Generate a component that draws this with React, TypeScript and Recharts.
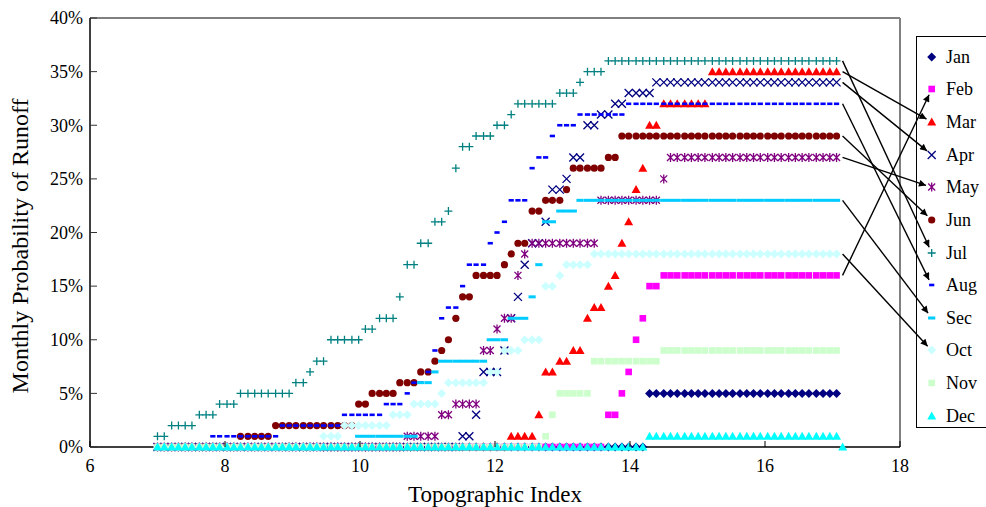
import React from "react";
import { ScatterChart, Scatter, XAxis, YAxis, ReferenceLine, Legend, Label } from "recharts";

// topographic index of each class (x)
const topoIndex = [
  7.0, 7.1, 7.21, 7.31, 7.41, 7.51, 7.62, 7.72, 7.82, 7.92,
  8.03, 8.13, 8.23, 8.34, 8.44, 8.54, 8.64, 8.75, 8.85, 8.95,
  9.05, 9.16, 9.26, 9.36, 9.46, 9.57, 9.67, 9.77, 9.88, 9.98,
  10.08, 10.18, 10.29, 10.39, 10.49, 10.59, 10.7, 10.8, 10.9, 11.01,
  11.11, 11.21, 11.31, 11.42, 11.52, 11.62, 11.72, 11.83, 11.93, 12.03,
  12.14, 12.24, 12.34, 12.44, 12.55, 12.65, 12.75, 12.85, 12.96, 13.06,
  13.16, 13.26, 13.37, 13.47, 13.57, 13.68, 13.78, 13.88, 13.98, 14.09,
  14.19, 14.29, 14.39, 14.5, 14.6, 14.7, 14.81, 14.91, 15.01, 15.11,
  15.22, 15.32, 15.42, 15.52, 15.63, 15.73, 15.83, 15.93, 16.04, 16.14,
  16.24, 16.35, 16.45, 16.55, 16.65, 16.76, 16.86, 16.96, 17.06, 17.15,
];

// monthly probability of runoff (%)
const jan = [
  0, 0, 0, 0, 0, 0, 0, 0, 0, 0,
  0, 0, 0, 0, 0, 0, 0, 0, 0, 0,
  0, 0, 0, 0, 0, 0, 0, 0, 0, 0,
  0, 0, 0, 0, 0, 0, 0, 0, 0, 0,
  0, 0, 0, 0, 0, 0, 0, 0, 0, 0,
  0, 0, 0, 0, 0, 0, 0, 0, 0, 0,
  0, 0, 0, 0, 0, 0, 0, 0, 0, 0,
  0, 5, 5, 5, 5, 5, 5, 5, 5, 5,
  5, 5, 5, 5, 5, 5, 5, 5, 5, 5,
  5, 5, 5, 5, 5, 5, 5, 5, 5,
];
const feb = [
  0, 0, 0, 0, 0, 0, 0, 0, 0, 0,
  0, 0, 0, 0, 0, 0, 0, 0, 0, 0,
  0, 0, 0, 0, 0, 0, 0, 0, 0, 0,
  0, 0, 0, 0, 0, 0, 0, 0, 0, 0,
  0, 0, 0, 0, 0, 0, 0, 0, 0, 0,
  0, 0, 0, 0, 0, 0, 0, 0, 0, 0,
  0, 0, 0, 0, 0, 3, 3, 5, 7, 10,
  12, 15, 15, 16, 16, 16, 16, 16, 16, 16,
  16, 16, 16, 16, 16, 16, 16, 16, 16, 16,
  16, 16, 16, 16, 16, 16, 16, 16, 16,
];
const mar = [
  0, 0, 0, 0, 0, 0, 0, 0, 0, 0,
  0, 0, 0, 0, 0, 0, 0, 0, 0, 0,
  0, 0, 0, 0, 0, 0, 0, 0, 0, 0,
  0, 0, 0, 0, 0, 0, 0, 0, 0, 0,
  0, 0, 0, 0, 0, 0, 0, 0, 0, 0,
  0, 1, 1, 1, 1, 3, 7, 7, 8, 8,
  9, 9, 12, 13, 13, 15, 16, 19, 21, 24,
  26, 30, 30, 32, 32, 32, 32, 32, 32, 32,
  35, 35, 35, 35, 35, 35, 35, 35, 35, 35,
  35, 35, 35, 35, 35, 35, 35, 35, 35,
];
const apr = [
  0, 0, 0, 0, 0, 0, 0, 0, 0, 0,
  0, 0, 0, 0, 0, 0, 0, 0, 0, 0,
  0, 0, 0, 0, 0, 0, 0, 0, 0, 0,
  0, 0, 0, 0, 0, 0, 0, 0, 0, 0,
  0, 0, 0, 0, 1, 1, 3, 7, 7, 7,
  9, 12, 14, 17, 19, 19, 21, 24, 24, 25,
  27, 27, 30, 30, 31, 31, 32, 32, 33, 33,
  33, 33, 34, 34, 34, 34, 34, 34, 34, 34,
  34, 34, 34, 34, 34, 34, 34, 34, 34, 34,
  34, 34, 34, 34, 34, 34, 34, 34, 34,
];
const may = [
  0, 0, 0, 0, 0, 0, 0, 0, 0, 0,
  0, 0, 0, 0, 0, 0, 0, 0, 0, 0,
  0, 0, 0, 0, 0, 0, 0, 0, 0, 0,
  0, 0, 0, 0, 0, 0, 1, 1, 1, 1,
  1, 3, 3, 4, 4, 4, 4, 9, 9, 11,
  12, 12, 16, 18, 19, 19, 19, 19, 19, 19,
  19, 19, 19, 19, 23, 23, 23, 23, 23, 23,
  23, 23, 23, 25, 27, 27, 27, 27, 27, 27,
  27, 27, 27, 27, 27, 27, 27, 27, 27, 27,
  27, 27, 27, 27, 27, 27, 27, 27, 27,
];
const jun = [
  0, 0, 0, 0, 0, 0, 0, 0, 0, 0,
  0, 0, 1, 1, 1, 1, 1, 2, 2, 2,
  2, 2, 2, 2, 2, 2, 2, 2, 2, 4,
  4, 5, 5, 5, 5, 6, 6, 6, 7, 7,
  8, 9, 10, 12, 14, 14, 16, 16, 16, 16,
  17, 18, 19, 19, 22, 22, 23, 23, 23, 24,
  26, 26, 26, 26, 26, 27, 27, 29, 29, 29,
  29, 29, 29, 29, 29, 29, 29, 29, 29, 29,
  29, 29, 29, 29, 29, 29, 29, 29, 29, 29,
  29, 29, 29, 29, 29, 29, 29, 29, 29,
];
const jul = [
  1, 1, 2, 2, 2, 2, 3, 3, 3, 4,
  4, 4, 5, 5, 5, 5, 5, 5, 5, 5,
  6, 6, 7, 8, 8, 10, 10, 10, 10, 10,
  11, 11, 12, 12, 12, 14, 17, 17, 19, 19,
  21, 21, 22, 26, 28, 28, 29, 29, 29, 30,
  30, 31, 32, 32, 32, 32, 32, 32, 33, 33,
  33, 34, 35, 35, 35, 36, 36, 36, 36, 36,
  36, 36, 36, 36, 36, 36, 36, 36, 36, 36,
  36, 36, 36, 36, 36, 36, 36, 36, 36, 36,
  36, 36, 36, 36, 36, 36, 36, 36, 36,
];
const aug = [
  0, 0, 0, 0, 0, 0, 0, 0, 1, 1,
  1, 1, 1, 1, 1, 1, 1, 1, 2, 2,
  2, 2, 2, 2, 2, 2, 2, 3, 3, 3,
  3, 3, 3, 4, 4, 4, 5, 6, 6, 7,
  9, 12, 13, 13, 15, 17, 17, 17, 19, 20,
  21, 23, 23, 23, 26, 27, 27, 29, 30, 30,
  30, 31, 31, 31, 31, 31, 31, 31, 32, 32,
  32, 32, 32, 32, 32, 32, 32, 32, 32, 32,
  32, 32, 32, 32, 32, 32, 32, 32, 32, 32,
  32, 32, 32, 32, 32, 32, 32, 32, 32,
];
const sec = [
  0, 0, 0, 0, 0, 0, 0, 0, 0, 0,
  0, 0, 0, 0, 0, 0, 0, 0, 0, 0,
  0, 0, 0, 0, 0, 0, 0, 0, 0, 1,
  1, 1, 1, 1, 1, 1, 1, 1, 6, 6,
  7, 8, 8, 8, 8, 8, 8, 8, 10, 10,
  10, 12, 12, 12, 14, 17, 21, 21, 22, 22,
  22, 23, 23, 23, 23, 23, 23, 23, 23, 23,
  23, 23, 23, 23, 23, 23, 23, 23, 23, 23,
  23, 23, 23, 23, 23, 23, 23, 23, 23, 23,
  23, 23, 23, 23, 23, 23, 23, 23, 23,
];
const oct = [
  0, 0, 0, 0, 0, 0, 0, 0, 0, 0,
  0, 0, 0, 0, 0, 0, 0, 0, 0, 0,
  0, 0, 0, 0, 1, 1, 1, 2, 2, 2,
  2, 2, 2, 2, 3, 3, 3, 4, 4, 4,
  4, 5, 6, 6, 6, 6, 6, 6, 7, 7,
  9, 9, 9, 10, 10, 10, 15, 15, 16, 17,
  17, 17, 17, 18, 18, 18, 18, 18, 18, 18,
  18, 18, 18, 18, 18, 18, 18, 18, 18, 18,
  18, 18, 18, 18, 18, 18, 18, 18, 18, 18,
  18, 18, 18, 18, 18, 18, 18, 18, 18,
];
const nov = [
  0, 0, 0, 0, 0, 0, 0, 0, 0, 0,
  0, 0, 0, 0, 0, 0, 0, 0, 0, 0,
  0, 0, 0, 0, 0, 0, 0, 0, 0, 0,
  0, 0, 0, 0, 0, 0, 0, 0, 0, 0,
  0, 0, 0, 0, 0, 0, 0, 0, 0, 0,
  0, 0, 0, 0, 0, 0, 1, 3, 5, 5,
  5, 5, 5, 8, 8, 8, 8, 8, 8, 8,
  8, 8, 8, 9, 9, 9, 9, 9, 9, 9,
  9, 9, 9, 9, 9, 9, 9, 9, 9, 9,
  9, 9, 9, 9, 9, 9, 9, 9, 9,
];
const dec = [
  0, 0, 0, 0, 0, 0, 0, 0, 0, 0,
  0, 0, 0, 0, 0, 0, 0, 0, 0, 0,
  0, 0, 0, 0, 0, 0, 0, 0, 0, 0,
  0, 0, 0, 0, 0, 0, 0, 0, 0, 0,
  0, 0, 0, 0, 0, 0, 0, 0, 0, 0,
  0, 0, 0, 0, 0, 0, 0, 0, 0, 0,
  0, 0, 0, 0, 0, 0, 0, 0, 0, 0,
  0, 1, 1, 1, 1, 1, 1, 1, 1, 1,
  1, 1, 1, 1, 1, 1, 1, 1, 1, 1,
  1, 1, 1, 1, 1, 1, 1, 1, 1, 0,
];

const xTicks = [6, 8, 10, 12, 14, 16, 18];
const yTicks = [0, 5, 10, 15, 20, 25, 30, 35, 40];
const arrowMonths = ["Feb", "Mar", "Apr", "May", "Jun", "Jul", "Aug", "Sec", "Oct"];

const series = [
  { name: "Jan", values: jan, color: "#000080", kind: "diamond" },
  { name: "Feb", values: feb, color: "#ff00ff", kind: "square" },
  { name: "Mar", values: mar, color: "#ff0000", kind: "triangle" },
  { name: "Apr", values: apr, color: "#000080", kind: "cross" },
  { name: "May", values: may, color: "#800080", kind: "star" },
  { name: "Jun", values: jun, color: "#800000", kind: "circle" },
  { name: "Jul", values: jul, color: "#008080", kind: "plus" },
  { name: "Aug", values: aug, color: "#0000ff", kind: "dash" },
  { name: "Sec", values: sec, color: "#00ccff", kind: "bar" },
  { name: "Oct", values: oct, color: "#ccffff", kind: "diamond" },
  { name: "Nov", values: nov, color: "#ccffcc", kind: "square" },
  { name: "Dec", values: dec, color: "#00ffff", kind: "triangle" },
];

const W = 986;
const H = 507;
const PLOT = { left: 90, right: 900, top: 18, bottom: 447 };
const FONT = '"Liberation Serif", "Times New Roman", Times, serif';
const LEG = { left: 916, top: 36, width: 90, height: 392, row: 32.65, pad: 3.4 };

const toPoints = (vals: number[]) => vals.map((y, i) => ({ x: topoIndex[i], y }));

function Mark({ kind, color, cx, cy }: { kind: string; color: string; cx: number; cy: number }) {
  switch (kind) {
    case "diamond":
      return <polygon points={`${cx},${cy - 4.5} ${cx + 4.5},${cy} ${cx},${cy + 4.5} ${cx - 4.5},${cy}`} fill={color} />;
    case "square":
      return <rect x={cx - 3.3} y={cy - 3.3} width={6.6} height={6.6} fill={color} />;
    case "triangle":
      return <polygon points={`${cx},${cy - 4.5} ${cx + 4.5},${cy + 3.5} ${cx - 4.5},${cy + 3.5}`} fill={color} />;
    case "cross":
      return (
        <path d={`M${cx - 4},${cy - 4}L${cx + 4},${cy + 4}M${cx - 4},${cy + 4}L${cx + 4},${cy - 4}`} stroke={color} strokeWidth={1.3} />
      );
    case "star":
      return (
        <path
          d={`M${cx - 3.5},${cy - 3.5}L${cx + 3.5},${cy + 3.5}M${cx - 3.5},${cy + 3.5}L${cx + 3.5},${cy - 3.5}M${cx},${cy - 4.5}L${cx},${cy + 4.5}`}
          stroke={color}
          strokeWidth={1.3}
        />
      );
    case "circle":
      return <circle cx={cx} cy={cy} r={3.6} fill={color} />;
    case "plus":
      return <path d={`M${cx - 4},${cy}L${cx + 4},${cy}M${cx},${cy - 4}L${cx},${cy + 4}`} stroke={color} strokeWidth={1.3} />;
    case "dash":
      return <rect x={cx - 2.6} y={cy - 1.3} width={5.2} height={2.6} fill={color} />;
    case "bar":
      return <rect x={cx - 3.6} y={cy - 1.5} width={7.2} height={3} fill={color} />;
    default:
      return null;
  }
}

function XTick(props: any) {
  const { x, y, payload } = props;
  return (
    <g>
      <line x1={x} x2={x} y1={PLOT.bottom} y2={PLOT.bottom - 6} stroke="#000" strokeWidth={1} />
      <text x={x} y={y} dy="0.71em" textAnchor="middle" fill="#000" fontFamily={FONT} fontSize={18}>
        {payload.value}
      </text>
    </g>
  );
}

function YTick(props: any) {
  const { x, y, payload } = props;
  return (
    <g>
      <line x1={PLOT.left} x2={PLOT.left + 7} y1={y} y2={y} stroke="#333" strokeWidth={1} />
      <text x={x} y={y} dy="0.35em" textAnchor="end" fill="#000" fontFamily={FONT} fontSize={18}>
        {`${payload.value}%`}
      </text>
    </g>
  );
}

function LegendBox() {
  return (
    <div
      style={{
        width: LEG.width,
        height: LEG.height,
        border: "1px solid #000",
        background: "#fff",
        boxSizing: "border-box",
        paddingTop: LEG.pad,
        fontFamily: FONT,
        fontSize: 18,
        color: "#000",
      }}
    >
      {series.map((s) => (
        <div key={s.name} style={{ height: LEG.row, display: "flex", alignItems: "center" }}>
          <svg width={29} height={14} style={{ display: "block" }}>
            <Mark kind={s.kind} color={s.color} cx={14.7} cy={7} />
          </svg>
          <span style={{ lineHeight: 1 }}>{s.name}</span>
        </div>
      ))}
    </div>
  );
}

// leader arrows from the end of each curve to its legend entry
function Arrows() {
  const px = (v: number) => PLOT.left + ((v - 6) / 12) * (PLOT.right - PLOT.left);
  const py = (v: number) => PLOT.bottom - (v / 40) * (PLOT.bottom - PLOT.top);
  const x0 = px(topoIndex[98]) + 6;
  return (
    <svg width={W} height={H} style={{ position: "absolute", left: 0, top: 0, pointerEvents: "none" }}>
      <defs>
        <marker id="head" viewBox="0 0 10 10" refX="10" refY="5" markerWidth="8" markerHeight="7" orient="auto" markerUnits="userSpaceOnUse">
          <path d="M0,0 L10,5 L0,10 z" fill="#000" />
        </marker>
      </defs>
      {arrowMonths.map((m) => {
        const k = series.findIndex((s) => s.name === m);
        const vals = series[k].values;
        const y0 = py(vals[98]);
        const tx = LEG.left + 15.7;
        const ty = LEG.top + 1 + LEG.pad + LEG.row / 2 + k * LEG.row;
        const dx = tx - x0;
        const dy = ty - y0;
        const len = Math.sqrt(dx * dx + dy * dy);
        const x1 = tx - (dx / len) * 6;
        const y1 = ty - (dy / len) * 6;
        return <line key={m} x1={x0} y1={y0} x2={x1} y2={y1} stroke="#000" strokeWidth={1.4} markerEnd="url(#head)" />;
      })}
    </svg>
  );
}

export default function App() {
  return (
    <div style={{ position: "absolute", left: 0, top: 0, width: W, height: H, overflow: "hidden", background: "#fff" }}>
      <ScatterChart width={W} height={H} margin={{ top: PLOT.top, right: W - PLOT.right, bottom: 0, left: 0 }}>
        <XAxis
          type="number"
          dataKey="x"
          domain={[6, 18]}
          ticks={xTicks}
          height={H - PLOT.bottom}
          tickSize={0}
          tickMargin={12}
          tickLine={false}
          axisLine={{ stroke: "#000", strokeWidth: 1.5 }}
          tick={XTick}
          label={
            <Label
              content={() => (
                <text x={(PLOT.left + PLOT.right) / 2} y={502} textAnchor="middle" fill="#000" fontFamily={FONT} fontSize={23}>
                  Topographic Index
                </text>
              )}
            />
          }
        />
        <YAxis
          type="number"
          dataKey="y"
          domain={[0, 40]}
          ticks={yTicks}
          width={PLOT.left}
          tickSize={0}
          tickMargin={7}
          tickLine={false}
          axisLine={{ stroke: "#000", strokeWidth: 1.5 }}
          tick={YTick}
          label={
            <Label
              content={() => (
                <text x={28} y={246} transform="rotate(-90 28 246)" textAnchor="middle" fill="#000" fontFamily={FONT} fontSize={24}>
                  Monthly Probability of Runoff
                </text>
              )}
            />
          }
        />
        <ReferenceLine y={40} stroke="#808080" strokeWidth={2} />
        <ReferenceLine x={18} stroke="#808080" strokeWidth={2} />
        {series.map((s) => (
          <Scatter
            key={s.name}
            name={s.name}
            data={toPoints(s.values)}
            fill={s.color}
            isAnimationActive={false}
            shape={(p: any) => <Mark kind={s.kind} color={s.color} cx={p.cx} cy={p.cy} />}
          />
        ))}
        <Legend
          layout="vertical"
          align="center"
          verticalAlign="middle"
          wrapperStyle={{ left: LEG.left, top: LEG.top, width: LEG.width, height: LEG.height }}
          content={LegendBox}
        />
      </ScatterChart>
      <Arrows />
    </div>
  );
}
